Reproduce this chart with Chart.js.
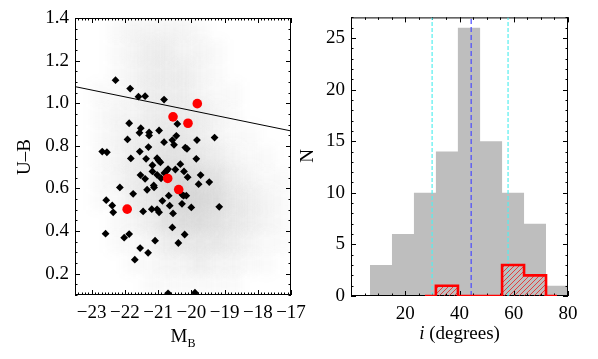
<!DOCTYPE html>
<html>
<head>
<meta charset="utf-8">
<script src="https://cdn.jsdelivr.net/npm/chart.js@4.4.1/dist/chart.umd.min.js"></script>
<style>
html, body { margin: 0; padding: 0; background: #fff; }
#wrap { position: relative; width: 598px; height: 359px; overflow: hidden; }
#left { position: absolute; left: 0; top: 0; width: 330px; height: 359px; }
#right { position: absolute; left: 300px; top: 0; width: 298px; height: 359px; }
</style>
</head>
<body>
<div id="wrap">
  <div id="left"><canvas id="cLeft"></canvas></div>
  <div id="right"><canvas id="cRight"></canvas></div>
</div>
<script>
// ---- left panel: colour-magnitude diagram ----
const diamondMB = [-22.28,-21.84,-21.59,-21.39,-20.82,-20.42,-21.87,-21.52,-21.56,-21.27,
    -21.27,-20.97,-20.45,-20.57,-20.82,-20.52,-21.92,-19.83,-19.30,-21.29,
    -20.18,-20.13,-22.68,-22.54,-21.55,-21.82,-21.36,-21.03,-20.98,-20.93,
    -21.17,-20.33,-19.85,-20.48,-20.70,-20.74,-20.81,-21.17,-21.03,-20.22,
    -21.53,-21.39,-20.91,-20.11,-19.72,-19.78,-19.46,-22.15,-21.13,-21.12,
    -21.33,-21.75,-20.68,-20.23,-20.15,-20.27,-22.56,-20.87,-22.38,-22.35,
    -21.45,-21.19,-21.03,-20.97,-20.65,-20.28,-20.00,-20.55,-19.16,-22.58,
    -22.02,-21.87,-20.57,-20.20,-21.09,-20.39,-21.54,-21.30,-21.70,-20.70,-19.89];
const diamondUB = [1.108,1.069,1.031,1.033,1.017,0.903,0.906,0.883,0.861,0.863,
    0.848,0.872,0.847,0.827,0.817,0.805,0.830,0.827,0.839,0.794,
    0.792,0.786,0.773,0.770,0.773,0.741,0.739,0.742,0.731,0.723,
    0.709,0.714,0.739,0.689,0.691,0.683,0.673,0.680,0.664,0.680,
    0.663,0.645,0.648,0.653,0.663,0.620,0.630,0.605,0.614,0.605,
    0.594,0.575,0.566,0.566,0.566,0.570,0.545,0.542,0.520,0.488,
    0.492,0.503,0.502,0.488,0.519,0.528,0.511,0.483,0.514,0.388,
    0.369,0.386,0.417,0.384,0.355,0.344,0.320,0.298,0.266,0.108,0.111];
const redMB = [-19.82, -20.55, -20.10, -20.71, -20.38, -21.93];
const redUB = [0.998, 0.936, 0.906, 0.647, 0.595, 0.503];
const divideMB = [-23.5, -17];
const divideUB = [1.078, 0.870];

// background galaxy cloud, read as a density grid (cell centres)
const cloudMB = [-23.25,-22.75,-22.25,-21.75,-21.25,-20.75,-20.25,-19.75,-19.25,-18.75,-18.25,-17.75,-17.25];
const cloudUB = [1.35, 1.25, 1.15, 1.05, 0.95, 0.85, 0.75, 0.65, 0.55, 0.45, 0.35, 0.25, 0.15];
const cloudDensity = [
    [0,0,1,2,2,2,2,1,0,0,0,0,0],
    [0,0,1,2,3,3,2,2,1,0,0,0,0],
    [0,0,1,2,3,3,3,2,1,0,0,0,0],
    [0,1,1,2,3,3,3,2,1,1,0,0,0],
    [0,1,2,2,3,3,3,3,2,1,0,0,0],
    [0,1,2,3,3,4,4,3,2,1,1,0,0],
    [0,1,2,3,4,5,5,4,3,2,1,1,0],
    [0,1,2,3,4,6,7,6,5,3,2,1,1],
    [0,1,1,3,4,6,7,7,6,4,3,2,1],
    [0,0,1,2,3,5,6,6,5,4,3,2,1],
    [0,0,1,1,2,3,4,4,4,3,2,1,1],
    [0,0,0,1,1,2,2,3,2,2,1,1,0],
    [0,0,0,0,1,1,1,1,1,1,0,0,0]
];

// ---- right panel: inclination histogram ----
const binEdges = [7.0, 15.1, 23.2, 31.3, 39.4, 47.6, 55.7, 63.8, 71.9, 80.0];
const allCounts = [3, 6, 10, 14, 26, 15, 10, 7, 1];
const subCentres = [27.25, 35.35, 43.5, 51.65, 59.75, 67.85, 75.95];
const subCounts = [0, 1, 0, 0, 3, 2, 0];
const cyanLines = [29.9, 57.9];
const blueLine = [44.3];

const SERIF = "'Liberation Serif', 'DejaVu Serif', serif";

function drawFrame(chart, o) {
    const { ctx, chartArea: a, scales: { x, y } } = chart;
    ctx.save();
    ctx.strokeStyle = '#000';
    ctx.lineWidth = 1;
    ctx.strokeRect(a.left + 0.5, a.top + 0.5, a.right - a.left - 1, a.bottom - a.top - 1);
    const marks = (axis, step, len, horiz) => {
        const k0 = Math.ceil(axis.min / step - 1e-6), k1 = Math.floor(axis.max / step + 1e-6);
        ctx.beginPath();
        for (let k = k0; k <= k1; k++) {
            const p = Math.round(axis.getPixelForValue(k * step)) + 0.5;
            if (horiz) {
                ctx.moveTo(p, a.bottom); ctx.lineTo(p, a.bottom - len);
                ctx.moveTo(p, a.top); ctx.lineTo(p, a.top + len);
            } else {
                ctx.moveTo(a.left, p); ctx.lineTo(a.left + len, p);
                ctx.moveTo(a.right, p); ctx.lineTo(a.right - len, p);
            }
        }
        ctx.stroke();
    };
    marks(x, o.xMinor, 2.5, true);
    marks(x, o.xMajor, 5, true);
    marks(y, o.yMinor, 2.5, false);
    marks(y, o.yMajor, 5, false);
    ctx.restore();
}

const framePlugin = {
    id: 'frame',
    beforeDatasetsDraw(chart, args, o) {
        if (o.cloud) {
            const { ctx, chartArea: a, scales: { x, y } } = chart;
            ctx.save();
            ctx.beginPath();
            ctx.rect(a.left, a.top, a.right - a.left, a.bottom - a.top);
            ctx.clip();
            ctx.filter = 'blur(6px)';
            cloudUB.forEach((ub, r) => {
                cloudMB.forEach((mb, c) => {
                    const lvl = cloudDensity[r][c];
                    if (!lvl) return;
                    const x0 = x.getPixelForValue(mb - 0.25), x1 = x.getPixelForValue(mb + 0.25);
                    const y0 = y.getPixelForValue(ub + 0.05), y1 = y.getPixelForValue(ub - 0.05);
                    ctx.fillStyle = 'rgba(95,95,95,' + (lvl * 0.036) + ')';
                    ctx.fillRect(x0, y0, x1 - x0 + 0.5, y1 - y0 + 0.5);
                });
            });
            ctx.restore();
        }
        if (o.afterIndex === -1) drawFrame(chart, o);
    },
    afterDatasetDraw(chart, args, o) {
        if (args.index === o.afterIndex) drawFrame(chart, o);
    },
    afterDraw(chart, args, o) {
        const ctx = chart.ctx;
        ctx.save();
        ctx.fillStyle = '#000';
        ctx.font = '19px ' + SERIF;
        ctx.textAlign = 'center';
        ctx.textBaseline = 'middle';
        ctx.save();
        ctx.translate(o.yTitleX, o.yTitleY);
        ctx.rotate(-Math.PI / 2);
        ctx.fillText(o.yTitle, 0, 0);
        ctx.restore();
        ctx.textBaseline = 'alphabetic';
        ctx.textAlign = 'left';
        const parts = o.xTitle;
        let total = 0;
        parts.forEach(p => { ctx.font = p.font + SERIF; total += ctx.measureText(p.t).width; });
        let cx = o.xTitleX - total / 2;
        parts.forEach(p => {
            ctx.font = p.font + SERIF;
            ctx.fillText(p.t, cx, o.xTitleY + (p.dy || 0));
            cx += ctx.measureText(p.t).width;
        });
        ctx.restore();
    }
};

function fixedSize(w, h) {
    return {
        x: scale => { scale.height = h; },
        y: scale => { scale.width = w; }
    };
}

const tickFont = { family: SERIF, size: 19 };
const minus = v => String(v).replace('-', '\u2212');

// left chart
const leftFit = fixedSize(75, 64);
new Chart(document.getElementById('cLeft'), {
    type: 'scatter',
    data: {
        datasets: [
            {
                data: redMB.map((v, i) => ({ x: v, y: redUB[i] })),
                pointStyle: 'circle', pointRadius: 4.8, pointBackgroundColor: '#ff0000',
                pointBorderWidth: 0, order: 1
            },
            {
                data: diamondMB.map((v, i) => ({ x: v, y: diamondUB[i] })),
                pointStyle: 'rectRot', pointRadius: 3.9, pointBackgroundColor: '#000',
                pointBorderWidth: 0, order: 2
            },
            {
                type: 'line',
                data: divideMB.map((v, i) => ({ x: v, y: divideUB[i] })),
                borderColor: '#000', borderWidth: 1, pointRadius: 0, order: 3
            }
        ]
    },
    options: {
        responsive: true, maintainAspectRatio: false, animation: false, events: [],
        layout: { padding: { top: 18, right: 39, left: 0, bottom: 0 } },
        plugins: {
            legend: { display: false }, tooltip: { enabled: false },
            frame: {
                afterIndex: -1, cloud: true, xMajor: 1, xMinor: 0.1, yMajor: 0.2, yMinor: 0.05,
                yTitle: 'U\u2013B', yTitleX: 25, yTitleY: 157,
                xTitle: [{ t: 'M', font: '19px ' }, { t: 'B', font: '12px ', dy: 5 }],
                xTitleX: 183, xTitleY: 342
            }
        },
        scales: {
            x: {
                type: 'linear', min: -23.5, max: -17,
                grid: { display: false, drawTicks: false }, border: { display: false },
                ticks: { stepSize: 1, includeBounds: false, color: '#000', font: tickFont, padding: 7,
                    maxRotation: 0, autoSkip: false, callback: v => minus(v) },
                afterFit: leftFit.x
            },
            y: {
                type: 'linear', min: 0.1, max: 1.4,
                grid: { display: false, drawTicks: false }, border: { display: false },
                ticks: { stepSize: 0.2, includeBounds: false, color: '#000', font: tickFont, padding: 6,
                    autoSkip: false, callback: v => v.toFixed(1) },
                afterFit: leftFit.y
            }
        }
    },
    plugins: [framePlugin]
});

// right chart
function hatchPattern() {
    const c = document.createElement('canvas');
    c.width = 5; c.height = 5;
    const g = c.getContext('2d');
    g.strokeStyle = 'rgba(235,20,20,0.95)';
    g.lineWidth = 0.8;
    g.beginPath();
    g.moveTo(0, 5); g.lineTo(5, 0);
    g.moveTo(-1, 1); g.lineTo(1, -1);
    g.moveTo(4, 6); g.lineTo(6, 4);
    g.stroke();
    return g.createPattern(c, 'repeat');
}

const grayPoints = binEdges.map((e, i) => ({ x: e, y: allCounts[Math.min(i, allCounts.length - 1)] }));
const rightFit = fixedSize(51, 63);
const vline = (v, color, dash, order) => ({
    data: [{ x: v, y: 0 }, { x: v, y: 27 }],
    borderColor: color, borderWidth: 1.2, borderDash: dash, pointRadius: 0, fill: false, order
});

new Chart(document.getElementById('cRight'), {
    type: 'line',
    data: {
        datasets: [
            {
                data: subCentres.map((v, i) => ({ x: v, y: subCounts[i] })),
                stepped: 'middle', borderColor: '#ff0000', borderWidth: 2.6,
                backgroundColor: hatchPattern(), fill: 'origin', pointRadius: 0, order: 0
            },
            vline(cyanLines[0], '#55eeee', [4, 2], 1),
            vline(cyanLines[1], '#55eeee', [4, 2], 1),
            vline(blueLine[0], '#4848ff', [5, 3], 1),
            {
                data: grayPoints, stepped: 'before', borderColor: 'rgba(0,0,0,0)', borderWidth: 0,
                backgroundColor: '#bebebe', fill: 'origin', pointRadius: 0, order: 5
            }
        ]
    },
    options: {
        responsive: true, maintainAspectRatio: false, animation: false, events: [],
        layout: { padding: { top: 17, right: 30, left: 0, bottom: 0 } },
        plugins: {
            legend: { display: false }, tooltip: { enabled: false },
            frame: {
                afterIndex: 4, cloud: false, xMajor: 20, xMinor: 5, yMajor: 5, yMinor: 1,
                yTitle: 'N', yTitleX: 8, yTitleY: 156,
                xTitle: [{ t: 'i', font: 'italic 19px ' }, { t: ' (degrees)', font: '19px ' }],
                xTitleX: 159.5, xTitleY: 339
            }
        },
        scales: {
            x: {
                type: 'linear', min: 0, max: 80,
                grid: { display: false, drawTicks: false }, border: { display: false },
                ticks: { stepSize: 20, color: '#000', font: tickFont, padding: 7, maxRotation: 0,
                    autoSkip: false, callback: v => (v === 0 ? '' : String(v)) },
                afterFit: rightFit.x
            },
            y: {
                type: 'linear', min: 0, max: 27,
                grid: { display: false, drawTicks: false }, border: { display: false },
                ticks: { stepSize: 5, includeBounds: false, color: '#000', font: tickFont, padding: 6,
                    autoSkip: false },
                afterFit: rightFit.y
            }
        }
    },
    plugins: [framePlugin]
});
</script>
</body>
</html>
